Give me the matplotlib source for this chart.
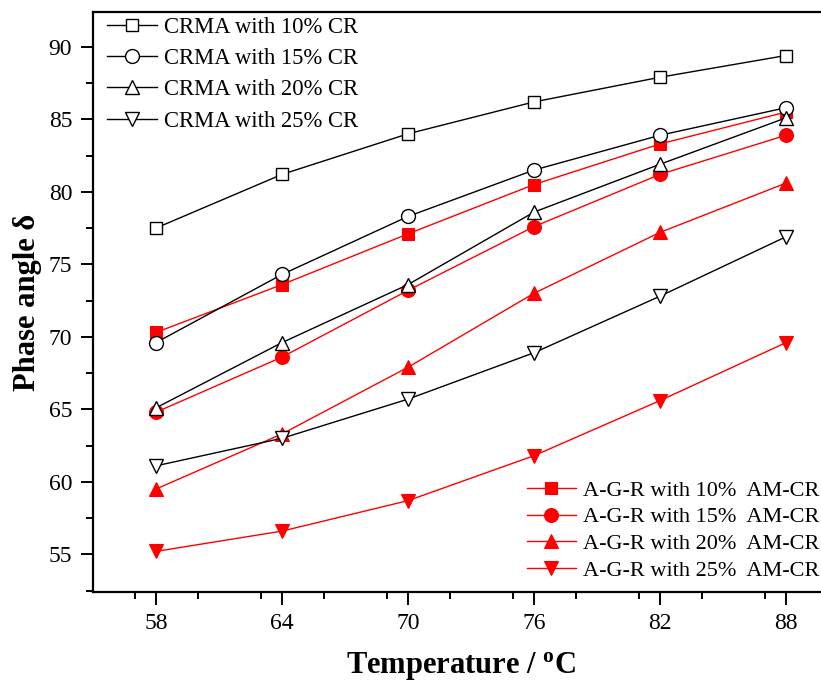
import matplotlib
matplotlib.use("Agg")
import matplotlib.pyplot as plt
from matplotlib.ticker import MultipleLocator

plt.rcParams['font.family'] = ['Liberation Serif', 'DejaVu Serif']
plt.rcParams['mathtext.fontset'] = 'custom'
plt.rcParams['mathtext.rm'] = 'Liberation Serif'
plt.rcParams['mathtext.bf'] = 'Liberation Serif:bold'

temps = [58, 64, 70, 76, 82, 88]

crma_labels = ["CRMA with 10% CR", "CRMA with 15% CR", "CRMA with 20% CR", "CRMA with 25% CR"]
crma_10 = [77.5, 81.2, 84.0, 86.2, 87.9, 89.4]
crma_15 = [69.6, 74.3, 78.3, 81.5, 83.9, 85.8]
crma_20 = [65.1, 69.6, 73.6, 78.6, 81.9, 85.1]
crma_25 = [61.1, 63.0, 65.7, 68.9, 72.8, 76.9]

agr_labels = ["A-G-R with 10%  AM-CR", "A-G-R with 15%  AM-CR",
              "A-G-R with 20%  AM-CR", "A-G-R with 25%  AM-CR"]
agr_10 = [70.3, 73.6, 77.1, 80.5, 83.3, 85.5]
agr_15 = [64.8, 68.6, 73.2, 77.6, 81.2, 83.9]
agr_20 = [59.5, 63.3, 67.9, 73.0, 77.2, 80.6]
agr_25 = [55.2, 56.6, 58.7, 61.8, 65.6, 69.6]

W, H = 821, 688
fig = plt.figure(figsize=(W / 100, H / 100), dpi=100)
ax = fig.add_axes([93 / W, 1 - 592 / H, (828 - 93) / W, (592 - 12) / H])

markers = ['s', 'o', '^', 'v']
msizes = [9, 10, 10.5, 10.5]

red_handles = []
for vals, lab, m, ms in zip([agr_10, agr_15, agr_20, agr_25], agr_labels, markers, msizes):
    h, = ax.plot(temps, vals, color='#ff0000', lw=1.0, marker=m, ms=ms,
                 mfc='#ff0000', mec='#ff0000', mew=0.8, label=lab)
    red_handles.append(h)

black_handles = []
for vals, lab, m, ms in zip([crma_10, crma_15, crma_20, crma_25], crma_labels, markers, msizes):
    h, = ax.plot(temps, vals, color='black', lw=1.0, marker=m, ms=ms,
                 mfc='white', mec='black', mew=1.0, label=lab)
    black_handles.append(h)

ax.set_xlim(55, 90)
ax.set_ylim(52.4, 92.4)
ax.set_xticks(temps)
ax.xaxis.set_minor_locator(MultipleLocator(3))
ax.yaxis.set_major_locator(MultipleLocator(5))
ax.yaxis.set_minor_locator(MultipleLocator(2.5))

ax.tick_params(axis='both', which='major', direction='out', length=9, width=1.4,
               labelsize=17, pad=6, top=False, right=False)
ax.tick_params(axis='both', which='minor', direction='out', length=5, width=1.4,
               top=False, right=False)
for s in ax.spines.values():
    s.set_linewidth(1.6)

ax.set_xlabel(r'Temperature / $\mathbf{^{o}}$C', fontsize=22, fontweight='bold', labelpad=12)
ax.set_ylabel('Phase angle δ', fontsize=22, fontweight='bold', labelpad=5)

leg1 = ax.legend(handles=black_handles, loc='upper left',
                 bbox_to_anchor=(107 / W, 1 - 17 / H), bbox_transform=fig.transFigure,
                 frameon=False, fontsize=16.3, handlelength=2.2, handletextpad=0.3,
                 labelspacing=0.45, borderpad=0, borderaxespad=0)
ax.add_artist(leg1)
ax.legend(handles=red_handles, loc='upper left',
          bbox_to_anchor=(527 / W, 1 - 480 / H), bbox_transform=fig.transFigure,
          frameon=False, fontsize=16, handlelength=2.2, handletextpad=0.3,
          labelspacing=0.28, borderpad=0, borderaxespad=0)

fig.savefig('out.png', dpi=100)
